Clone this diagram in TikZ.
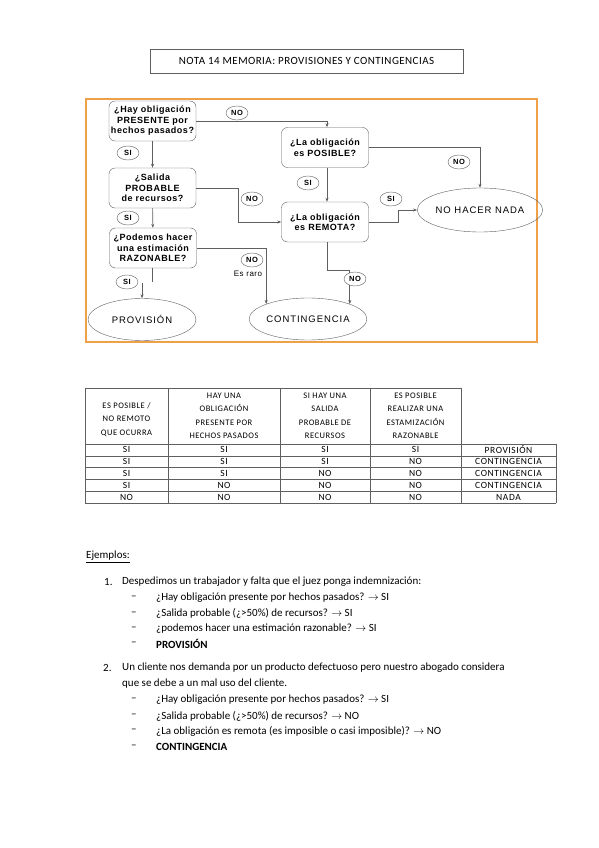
\documentclass[tikz,border=0pt]{standalone}
\usepackage{fontspec}
\setmainfont{Carlito}
\newfontfamily\flowfont[LetterSpace=6]{Liberation Sans}
\newfontfamily\ovalfont[LetterSpace=10]{Liberation Sans}
\newfontfamily\tabfont[LetterSpace=6]{Carlito}
\newfontfamily\titlefont[LetterSpace=4]{Carlito}
\usetikzlibrary{arrows.meta,shapes,positioning}
\definecolor{frameorange}{RGB}{240,160,72}
\definecolor{linegray}{RGB}{95,95,95}

\tikzset{
  question/.style={draw=linegray, rounded corners=6pt, fill=white, minimum width=87pt, minimum height=40pt, align=center, inner sep=1pt, font=\flowfont\bfseries\fontsize{9}{10.5}\selectfont},
  outcome/.style={draw=linegray, ellipse, inner sep=0pt, minimum height=42pt, font=\ovalfont\fontsize{9.5}{11}\selectfont},
  answer/.style={draw=linegray, ellipse, fill=white, inner sep=0pt, minimum width=22pt, minimum height=14pt, font=\flowfont\bfseries\fontsize{7.5}{8}\selectfont},
  flow/.style={draw=linegray, line width=0.6pt},
  headcell/.style={align=center, inner sep=0pt, font=\tabfont\fontsize{8.5}{13.5}\selectfont},
  cell/.style={inner sep=0pt, font=\tabfont\fontsize{9.5}{11}\selectfont},
  line/.style={anchor=west, inner sep=0pt, font=\fontsize{11}{13}\selectfont}
}

\begin{document}
\begin{tikzpicture}[x=1pt, y=-1pt, >={Stealth[length=4pt,width=3pt]}]
  \useasboundingbox[fill=white] (0,0) rectangle (599,848);

  % Title
  \node[draw=linegray, minimum width=313pt, minimum height=24pt, font=\titlefont\fontsize{11}{13}\selectfont] (title) at (306.5,61) {NOTA 14 MEMORIA: PROVISIONES Y CONTINGENCIAS};

  % Frame of the flow chart
  \draw[frameorange, line width=2.5pt] (86,99) rectangle (537,342);

  % Questions
  \node[question] (presente) at (152.5,121) {¿Hay obligación\\PRESENTE por\\hechos pasados?};
  \node[question] (probable) at (152.5,188) {¿Salida\\PROBABLE\\de recursos?};
  \node[question] (razonable) at (153,248) {¿Podemos hacer\\una estimación\\RAZONABLE?};
  \node[question] (posible) at (325,147.5) {¿La obligación\\es POSIBLE?};
  \node[question] (remota) at (325,222) {¿La obligación\\es REMOTA?};

  % Outcomes
  \node[outcome, minimum width=108pt] (prov) at (142,319.5) {PROVISIÓN};
  \node[outcome, minimum width=110pt] (cont) at (308,319) {CONTINGENCIA};
  \node[outcome, minimum width=112pt, minimum height=44pt] (nada) at (480,210) {NO HACER NADA};

  % Connectors
  \draw[flow, ->] (presente) -- (probable);
  \draw[flow, ->] (probable) -- (razonable);
  \draw[flow, ->] (posible.south -| 327,0) -- (remota.north -| 327,0);
  \draw[flow, ->] (presente.east) -| (327,0 |- posible.north);
  \draw[flow, ->] (probable.east) -- ++(42,0) |- (remota.west);
  \draw[flow, ->] (posible.east) -| (nada.north);
  \draw[flow, ->] (remota.east) -- ++(30,0) |- (nada.west);
  \draw[flow, ->] (remota.south -| 327,0) -- ++(0,28) -| (cont.north east);
  \draw[flow, ->] (razonable.east) -| (cont.north west);
  \coordinate (stub) at (152,282);
  \coordinate (provtop) at (142,283);
  \draw[flow] (razonable.south -| stub) -- (stub);
  \draw[flow, ->] (provtop) -- (prov.north);

  % Answers on the connectors
  \node[answer] (no1) at (237,113) {NO};
  \node[answer] (si1) at (128,153) {SI};
  \node[answer] (si2) at (128,218) {SI};
  \node[answer] (no2) at (252,199) {NO};
  \node[answer] (si3) at (308,183) {SI};
  \node[answer] (no3) at (459,162) {NO};
  \node[answer] (si4) at (391,199) {SI};
  \node[answer] (no4) at (355,279) {NO};
  \node[answer] (no5) at (252,260) {NO};
  \node[answer] (si5) at (127,282) {SI};
  \node[font=\flowfont\fontsize{8}{9}\selectfont, inner sep=0pt] (raro) at (248,274) {Es raro};

  % Table
  \draw[linegray, line width=0.6pt] (85,388) -- (461,388);
  \draw[linegray, line width=0.6pt] (85,444) -- (556,444);
  \foreach \y in {455.8,467.6,479.4,491.2,503} {
    \draw[linegray, line width=0.6pt] (85,\y) -- (556,\y);
  }
  \foreach \x in {85,168,280,370,461} {
    \draw[linegray, line width=0.6pt] (\x,388) -- (\x,503);
  }
  \draw[linegray, line width=0.6pt] (556,444) -- (556,503);

  \node[headcell] (h1) at (126.5,419.5) {ES POSIBLE /\\NO REMOTO\\QUE OCURRA};
  \node[headcell] (h2) at (224,416) {HAY UNA\\OBLIGACIÓN\\PRESENTE POR\\HECHOS PASADOS};
  \node[headcell] (h3) at (325,416) {SI HAY UNA\\SALIDA\\PROBABLE DE\\RECURSOS};
  \node[headcell] (h4) at (415.5,416) {ES POSIBLE\\REALIZAR UNA\\ESTAMIZACIÓN\\RAZONABLE};

  \foreach \a/\b/\c/\d/\e [count=\r] in {SI/SI/SI/SI/PROVISIÓN, SI/SI/SI/NO/CONTINGENCIA, SI/SI/NO/NO/CONTINGENCIA, SI/NO/NO/NO/CONTINGENCIA, NO/NO/NO/NO/NADA} {
    \pgfmathsetmacro{\yrow}{444+11.8*\r-5.9}
    \node[cell] (r\r c1) at (126.5,\yrow) {\a};
    \node[cell] (r\r c2) at (224,\yrow) {\b};
    \node[cell] (r\r c3) at (325,\yrow) {\c};
    \node[cell] (r\r c4) at (415.5,\yrow) {\d};
    \node[cell] (r\r c5) at (508.5,\yrow) {\e};
  }

  % Examples
  \node[line] (ejemplos) at (86,557) {\underline{Ejemplos:}};
  \node[line] (num1) at (104,582) {1.};
  \node[line] (ej1) at (122,582) {Despedimos un trabajador y falta que el juez ponga indemnización:};
  \node[line] (d11) at (131,598) {–};
  \node[line] (i11) at (156,598) {¿Hay obligación presente por hechos pasados? $\rightarrow$ SI};
  \node[line] (d12) at (131,613.5) {–};
  \node[line] (i12) at (156,613.5) {¿Salida probable (¿>50\%) de recursos? $\rightarrow$ SI};
  \node[line] (d13) at (131,629) {–};
  \node[line] (i13) at (156,629) {¿podemos hacer una estimación razonable? $\rightarrow$ SI};
  \node[line] (d14) at (131,644) {–};
  \node[line] (i14) at (156,644) {\textbf{PROVISIÓN}};

  \node[line] (num2) at (103,668) {2.};
  \node[line] (ej2) at (122,668) {Un cliente nos demanda por un producto defectuoso pero nuestro abogado considera};
  \node[line] (ej2b) at (122,684) {que se debe a un mal uso del cliente.};
  \node[line] (d21) at (131,700) {–};
  \node[line] (i21) at (156,700) {¿Hay obligación presente por hechos pasados? $\rightarrow$ SI};
  \node[line] (d22) at (131,716) {–};
  \node[line] (i22) at (156,716) {¿Salida probable (¿>50\%) de recursos? $\rightarrow$ NO};
  \node[line] (d23) at (131,731) {–};
  \node[line] (i23) at (156,731) {¿La obligación es remota (es imposible o casi imposible)? $\rightarrow$ NO};
  \node[line] (d24) at (131,747) {–};
  \node[line] (i24) at (156,747) {\textbf{CONTINGENCIA}};
\end{tikzpicture}
\end{document}
